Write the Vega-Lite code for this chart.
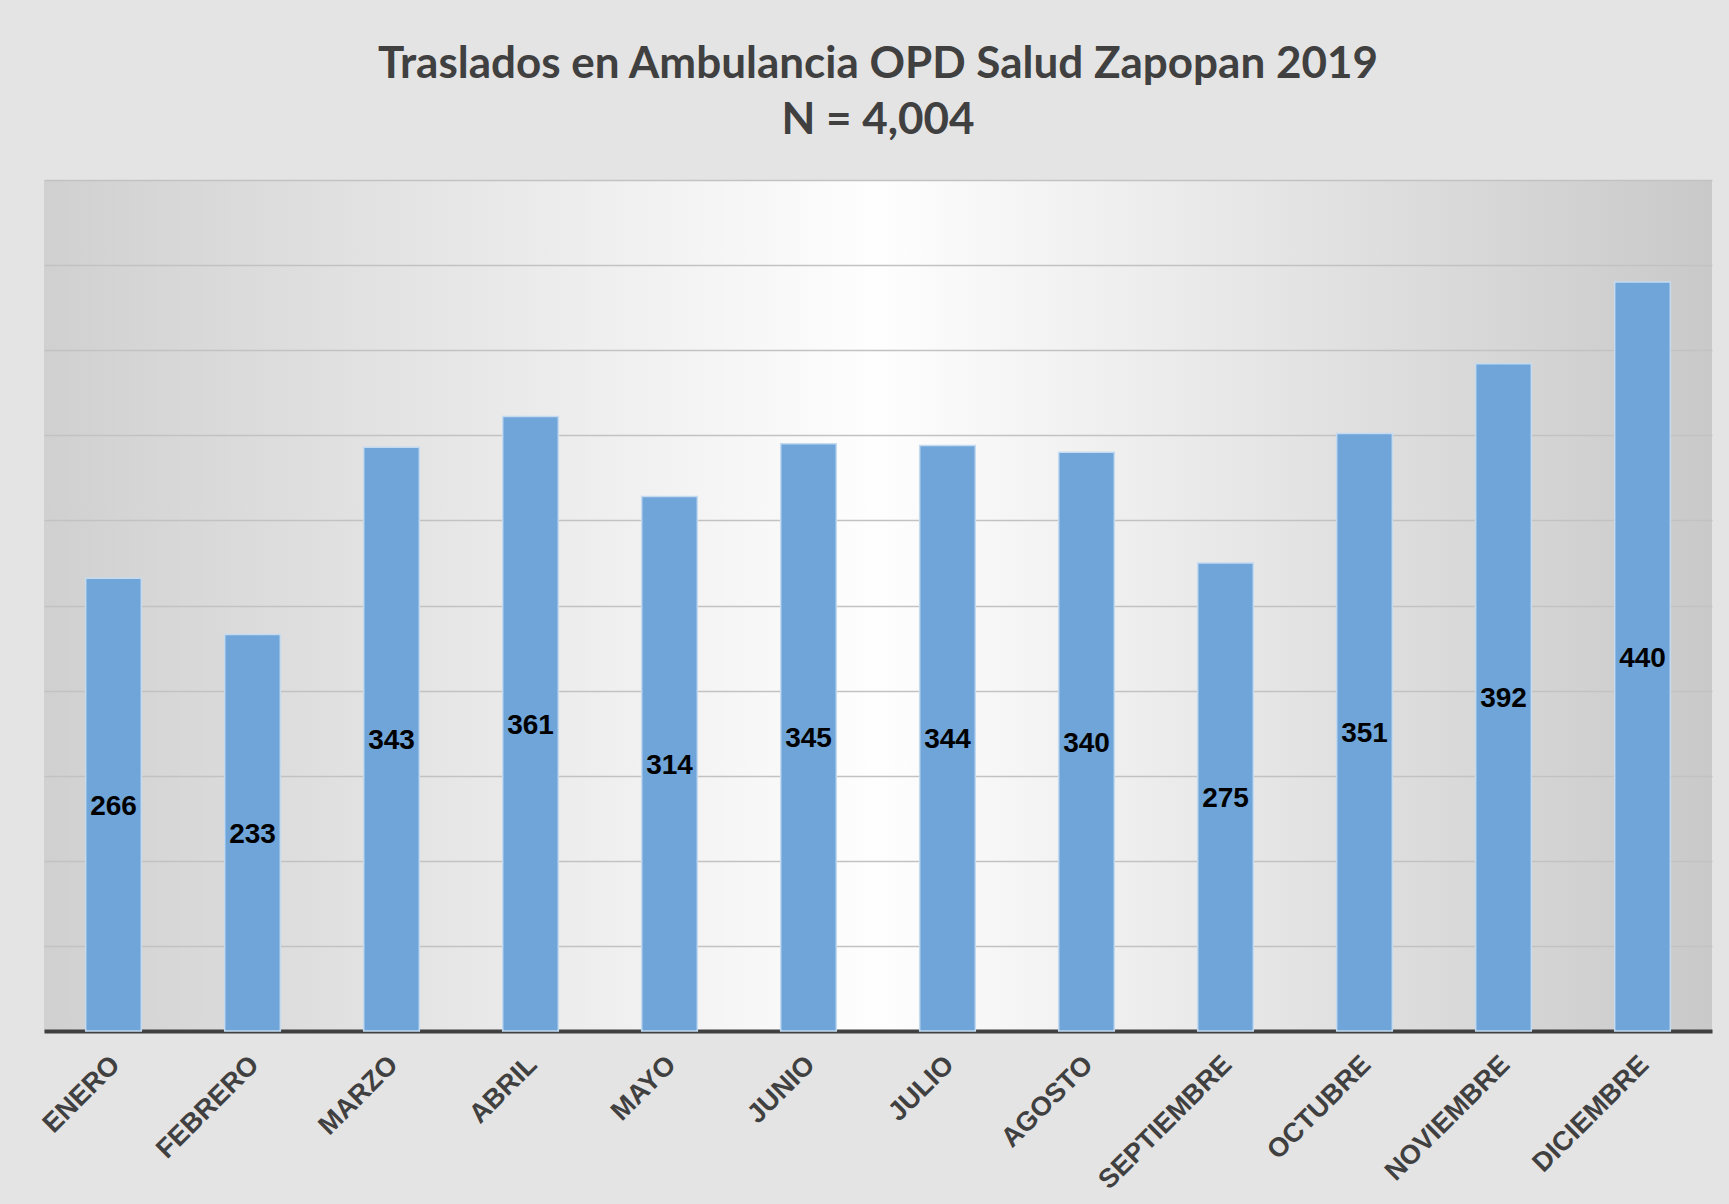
{
  "$schema": "https://vega.github.io/schema/vega-lite/v6.json",
  "width": 1668,
  "height": 851,
  "autosize": {"type": "none"},
  "padding": {"left": 44, "top": 180, "right": 17, "bottom": 173},
  "background": "#e4e4e4",
  "title": {
    "text": ["Traslados en Ambulancia OPD Salud Zapopan 2019", "N = 4,004"],
    "font": "Lato",
    "fontSize": 44,
    "fontWeight": "bold",
    "color": "#404040",
    "anchor": "middle",
    "baseline": "alphabetic",
    "offset": 2,
    "lineHeight": 56
  },
  "data": {
    "values": [
      {"mes": "ENERO", "valor": 266},
      {"mes": "FEBRERO", "valor": 233},
      {"mes": "MARZO", "valor": 343},
      {"mes": "ABRIL", "valor": 361},
      {"mes": "MAYO", "valor": 314},
      {"mes": "JUNIO", "valor": 345},
      {"mes": "JULIO", "valor": 344},
      {"mes": "AGOSTO", "valor": 340},
      {"mes": "SEPTIEMBRE", "valor": 275},
      {"mes": "OCTUBRE", "valor": 351},
      {"mes": "NOVIEMBRE", "valor": 392},
      {"mes": "DICIEMBRE", "valor": 440}
    ]
  },
  "transform": [{"calculate": "datum.valor / 2", "as": "mitad"}],
  "config": {
    "view": {
      "stroke": null,
      "fill": {
        "gradient": "linear",
        "x1": 0, "y1": 0, "x2": 1, "y2": 0,
        "stops": [
          {"offset": 0, "color": "#d0d0d0"},
          {"offset": 0.5, "color": "#fefefe"},
          {"offset": 1, "color": "#c9c9c9"}
        ]
      }
    }
  },
  "encoding": {
    "x": {
      "field": "mes",
      "type": "nominal",
      "sort": null,
      "scale": {"paddingInner": 0.6, "paddingOuter": 0.3},
      "axis": {
        "title": null,
        "domain": true,
        "domainColor": "#404040",
        "domainWidth": 4,
        "ticks": false,
        "labelAngle": -45,
        "labelAlign": "right",
        "labelBaseline": "top",
        "labelPadding": 20,
        "labelOffset": -7,
        "labelFont": "Liberation Sans",
        "labelFontWeight": "bold",
        "labelFontSize": 27,
        "labelColor": "#404040",
        "grid": false
      }
    }
  },
  "layer": [
    {
      "mark": {"type": "bar", "fill": "#6fa5d8", "stroke": "#c3daf0", "strokeWidth": 1.5},
      "encoding": {
        "y": {
          "field": "valor",
          "type": "quantitative",
          "scale": {"domain": [0, 500], "nice": false},
          "axis": {
            "title": null,
            "values": [0, 50, 100, 150, 200, 250, 300, 350, 400, 450, 500],
            "labels": false,
            "ticks": false,
            "domain": false,
            "grid": true,
            "gridColor": "#c2c2c2",
            "gridWidth": 1.5
          }
        }
      }
    },
    {
      "mark": {"type": "text", "font": "Liberation Sans", "fontWeight": "bold", "fontSize": 28, "color": "#000000", "baseline": "middle", "align": "center", "dy": 2},
      "encoding": {
        "y": {"field": "mitad", "type": "quantitative"},
        "text": {"field": "valor", "type": "quantitative"}
      }
    }
  ]
}
